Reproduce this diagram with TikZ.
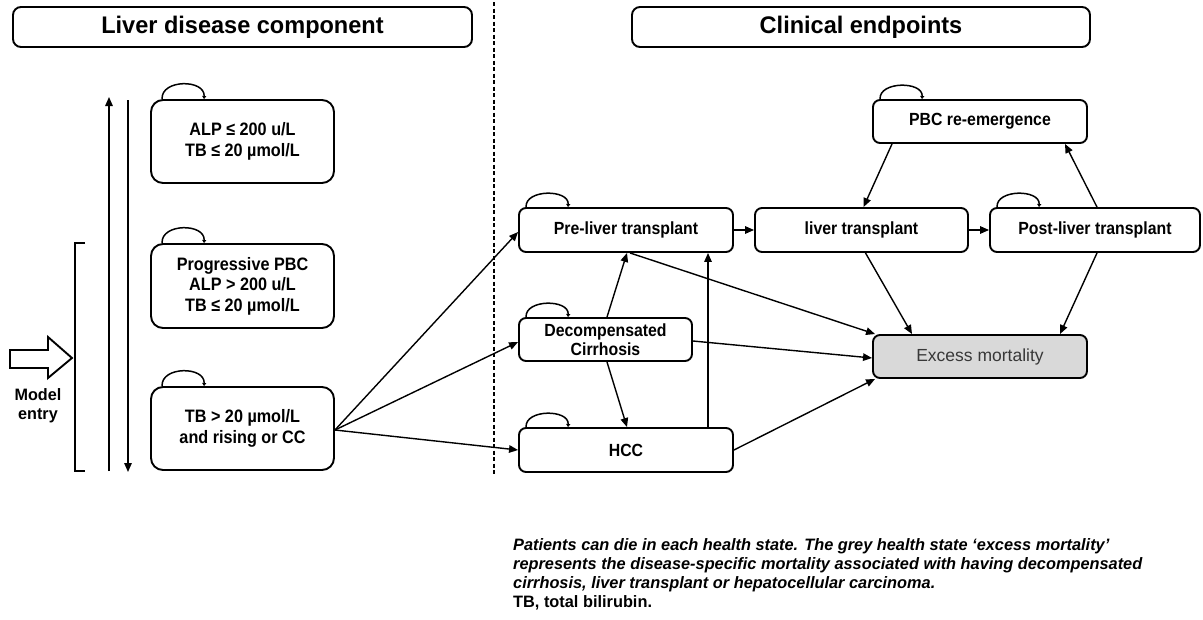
\documentclass[tikz,border=0pt]{standalone}
\usepackage{fontspec}
\setmainfont{Liberation Sans}
\newfontfamily\narrowfont[FakeStretch=0.9]{Liberation Sans}
\newfontfamily\headfont[FakeStretch=0.98]{Liberation Sans}
\newfontfamily\notefont[FakeStretch=0.99]{Liberation Sans}
\usetikzlibrary{arrows.meta,calc}

\begin{document}
\begin{tikzpicture}[x=1pt,y=-1pt,
  state/.style={draw, line width=1.9pt, rounded corners=7pt, fill=white,
    inner sep=0pt, align=center,
    font=\narrowfont\bfseries\fontsize{18}{20.5}\selectfont},
  bigstate/.style={state, rounded corners=12pt, minimum width=183pt,
    minimum height=83pt},
  rstate/.style={state, minimum width=214pt, minimum height=44pt,
    font=\narrowfont\bfseries\fontsize{17.6}{20}\selectfont},
  header/.style={draw, line width=1.9pt, rounded corners=8pt, inner sep=0pt,
    minimum height=40pt, font=\headfont\bfseries\fontsize{24}{26}\selectfont},
  link/.style={line width=1.4pt, -{Triangle[length=9pt,width=7.5pt]}},
  loopline/.style={line width=1.5pt, -{Triangle[length=3pt,width=4pt]}},
  note/.style={anchor=base west, inner sep=0pt,
    font=\notefont\bfseries\itshape\fontsize{16.5}{19}\selectfont}
]
\useasboundingbox (0,0) rectangle (1203,619);

% section headers and divider
\node[header, minimum width=459pt] (hdrL) at (242.5,27) {Liver disease component};
\node[header, minimum width=458pt] (hdrR) at (861,27) {Clinical endpoints};
\coordinate (divT) at (494,2);
\coordinate (divB) at (494,476);
\draw[line width=1.4pt, dash pattern=on 4pt off 2.5pt] (divT) -- (divB);

% liver disease states
\node[bigstate] (s1) at (242.5,141.5) {ALP ≤ 200 u/L\\TB ≤ 20 µmol/L};
\node[bigstate, minimum height=84pt] (s2) at (242.5,286) {Progressive PBC\\ALP > 200 u/L\\TB ≤ 20 µmol/L};
\node[bigstate] (s3) at (242.5,428.5) {TB > 20 µmol/L\\and rising or CC};

% progression arrows and entry bracket
\coordinate (upB) at (109,471);
\coordinate (upT) at (109,97);
\coordinate (dnT) at (128,100);
\coordinate (dnB) at (128,472);
\draw[link] (upB) -- (upT);
\draw[link] (dnT) -- (dnB);
\coordinate (brT) at (85,243);
\coordinate (brB) at (85,471);
\draw[line width=1.2pt] (brT) -- ++(-10,0) -- ($(brB)+(-10,0)$) -- (brB);

% model entry arrow
\draw[line width=1.9pt, line join=miter]
  (10,350) -- (48,350) -- (48,337) -- (72,358) -- (48,378) -- (48,368) -- (10,368) -- cycle;
\node[align=center, inner sep=0pt, font=\headfont\bfseries\fontsize{16.5}{19}\selectfont]
  (entry) at (38,406) {Model\\entry};

% clinical endpoint states
\node[rstate] (pre) at (626,230) {Pre-liver transplant};
\node[rstate, minimum width=213pt] (lt) at (861.5,230) {liver transplant};
\node[rstate, minimum width=210pt] (post) at (1095,230) {Post-liver transplant};
\node[rstate, minimum height=43pt] (pbc) at (980,121.5) {PBC re-emergence};
\node[rstate, minimum width=173pt, minimum height=43pt,
  font=\narrowfont\bfseries\fontsize{17.6}{19.5}\selectfont] (dc) at (605.5,339.5) {Decompensated\\Cirrhosis};
\node[rstate] (hcc) at (626,450) {HCC};
\node[rstate, minimum height=43pt, fill=black!15,
  font=\fontsize{17.5}{20}\selectfont, text=black!78] (em) at (980,356.5) {Excess mortality};

% self transitions
\foreach \n in {s1,s2,s3}
  \draw[loopline] ([xshift=12pt]\n.north west) .. controls +(-1,-20) and +(1,-20) .. ([xshift=54pt]\n.north west);
\foreach \n in {pre,post,pbc,dc,hcc}
  \draw[loopline] ([xshift=8pt]\n.north west) .. controls +(-1,-18) and +(1,-18) .. ([xshift=50pt]\n.north west);

% transitions
\draw[link] ([yshift=-1.5pt]s3.east) -- ([yshift=-2pt]pre.west);
\draw[link] ([yshift=-1.5pt]s3.east) -- ([yshift=-2.5pt]dc.west);
\draw[link] ([yshift=-1.5pt]s3.east) -- (hcc.west);
\draw[link] (pre.east) -- (lt.west);
\draw[link] (lt.east) -- (post.west);
\draw[link] ([xshift=-88pt]pbc.south) -- ([xshift=2pt]lt.north);
\draw[link] ([xshift=2pt]post.north) -- ([xshift=85pt]pbc.south);
\draw[link] ([xshift=4pt]lt.south) -- ([xshift=-68pt]em.north);
\draw[link] ([xshift=2pt]post.south) -- ([xshift=80pt]em.north);
\draw[link] ([xshift=4pt]pre.south) -- ([xshift=3pt]em.north west);
\draw[link] ([yshift=-1.5pt]dc.east) -- ([yshift=-1.5pt]em.west);
\draw[link] (hcc.east) -- ([xshift=3pt]em.south west);
\draw[link] ([xshift=1.5pt]dc.north) -- ([xshift=1pt]pre.south);
\draw[link] ([xshift=1.5pt]dc.south) -- ([xshift=1pt]hcc.north);
\draw[link] ([xshift=82pt]hcc.north) -- ([xshift=82pt]pre.south);

% footnote
\node[note] (fn1) at (513,550) {Patients can die in each health state. The grey health state ‘excess mortality’};
\node[note] (fn2) at (513,569) {represents the disease-specific mortality associated with having decompensated};
\node[note] (fn3) at (513,588) {cirrhosis, liver transplant or hepatocellular carcinoma.};
\node[note, font=\notefont\bfseries\fontsize{16.5}{19}\selectfont] (fn4) at (513,607) {TB, total bilirubin.};
\end{tikzpicture}
\end{document}
